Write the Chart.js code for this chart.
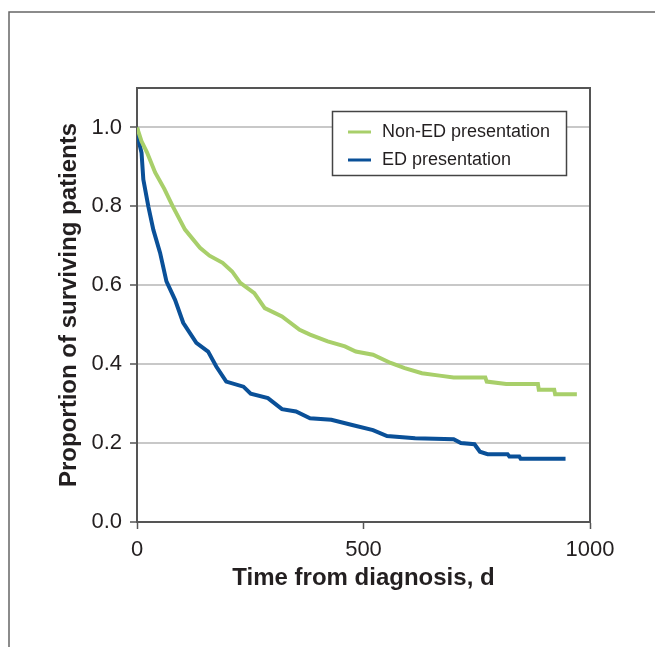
<!DOCTYPE html>
<html>
<head>
<meta charset="utf-8">
<script src="https://cdn.jsdelivr.net/npm/chart.js@4.4.1/dist/chart.umd.min.js"></script>
<style>
    body { margin: 0; background: #fff; }
    canvas { display: block; }
</style>
</head>
<body>
<canvas id="survivalChart" width="655" height="647"></canvas>
<script>
// Kaplan-Meier curves (days, proportion surviving)
const nonEdDays = [0, 10, 22, 40, 60, 79, 106, 139, 160, 189, 210, 228, 259, 282, 320, 359, 382, 421, 459, 483, 521, 560, 591, 629, 668, 699, 769, 772, 815, 885, 887, 921, 923, 971];
const nonEdSurv = [1.0, 0.965, 0.937, 0.886, 0.845, 0.80, 0.741, 0.695, 0.675, 0.657, 0.635, 0.606, 0.580, 0.542, 0.521, 0.487, 0.475, 0.458, 0.445, 0.432, 0.424, 0.403, 0.390, 0.377, 0.371, 0.366, 0.366, 0.356, 0.350, 0.350, 0.335, 0.335, 0.324, 0.324];

const edDays = [0, 5, 10, 14, 25, 36, 51, 65, 84, 102, 131, 157, 175, 197, 235, 251, 289, 320, 351, 382, 429, 475, 521, 552, 614, 699, 715, 745, 757, 774, 818, 822, 844, 847, 946];
const edSurv = [1.0, 0.96, 0.936, 0.868, 0.80, 0.741, 0.682, 0.61, 0.563, 0.505, 0.454, 0.432, 0.394, 0.356, 0.343, 0.325, 0.314, 0.286, 0.280, 0.263, 0.259, 0.246, 0.233, 0.218, 0.212, 0.210, 0.200, 0.197, 0.178, 0.172, 0.172, 0.166, 0.166, 0.160, 0.160];

const seriesLabels = ['Non-ED presentation', 'ED presentation'];
const xTicks = [0, 500, 1000];
const yTicks = [0, 0.2, 0.4, 0.6, 0.8, 1.0];

const FONT = "'Liberation Sans', Arial, Helvetica, sans-serif";
const TEXT = '#231f20';
const AXIS = '#555555';

function toPoints(xs, ys) {
    return xs.map((x, i) => ({ x: x, y: ys[i] }));
}

// Outer frame, plot box and the boxed legend
const framePlugin = {
    id: 'frame',
    beforeDraw(chart) {
        const ctx = chart.ctx;
        ctx.save();
        ctx.fillStyle = '#fff';
        ctx.fillRect(0, 0, chart.width, chart.height);
        ctx.strokeStyle = '#666';
        ctx.lineWidth = 1.5;
        ctx.beginPath();
        ctx.moveTo(9, chart.height);
        ctx.lineTo(9, 12);
        ctx.lineTo(chart.width, 12);
        ctx.stroke();
        ctx.restore();
    },
    afterDraw(chart) {
        const ctx = chart.ctx;
        const a = chart.chartArea;
        ctx.save();
        ctx.strokeStyle = AXIS;
        ctx.lineWidth = 2;
        ctx.beginPath();
        ctx.moveTo(a.left, a.top);
        ctx.lineTo(a.right, a.top);
        ctx.lineTo(a.right, a.bottom);
        ctx.stroke();

        // legend
        ctx.fillStyle = '#fff';
        ctx.fillRect(332.5, 111.5, 234, 64);
        ctx.strokeStyle = '#444';
        ctx.lineWidth = 1.5;
        ctx.strokeRect(332.5, 111.5, 234, 64);
        ctx.font = '18px ' + FONT;
        ctx.textBaseline = 'middle';
        ctx.fillStyle = TEXT;
        chart.data.datasets.forEach((ds, i) => {
            const y = 132 + i * 28;
            ctx.strokeStyle = ds.borderColor;
            ctx.lineWidth = 3;
            ctx.beginPath();
            ctx.moveTo(348, y);
            ctx.lineTo(371, y);
            ctx.stroke();
            ctx.fillText(ds.label, 382, y);
        });
        ctx.restore();
    }
};

const ctx = document.getElementById('survivalChart').getContext('2d');
new Chart(ctx, {
    type: 'line',
    data: {
        datasets: [{
            label: seriesLabels[0],
            data: toPoints(nonEdDays, nonEdSurv),
            borderColor: '#a8cf6a',
            borderWidth: 4,
            pointRadius: 0,
            tension: 0,
            fill: false
        }, {
            label: seriesLabels[1],
            data: toPoints(edDays, edSurv),
            borderColor: '#0a5098',
            borderWidth: 4,
            pointRadius: 0,
            tension: 0,
            fill: false
        }]
    },
    options: {
        responsive: false,
        animation: false,
        layout: {
            padding: { top: 88, right: 65, left: 0, bottom: 0 }
        },
        plugins: {
            legend: { display: false },
            tooltip: { enabled: false }
        },
        scales: {
            x: {
                type: 'linear',
                min: 0,
                max: 1000,
                afterBuildTicks: scale => {
                    scale.ticks = xTicks.map(v => ({ value: v }));
                },
                afterFit: scale => { scale.height = 125; },
                ticks: {
                    font: { family: FONT, size: 22 },
                    color: TEXT,
                    padding: 8,
                    maxRotation: 0,
                    callback: v => String(v)
                },
                grid: {
                    drawOnChartArea: false,
                    tickLength: 7,
                    tickColor: AXIS,
                    tickWidth: 1.5
                },
                border: { color: AXIS, width: 2 },
                title: {
                    display: true,
                    text: 'Time from diagnosis, d',
                    font: { family: FONT, size: 24, weight: 'bold' },
                    color: TEXT,
                    padding: { top: 0, bottom: 54 }
                }
            },
            y: {
                min: 0,
                max: 1.1,
                afterBuildTicks: scale => {
                    scale.ticks = yTicks.map(v => ({ value: v }));
                },
                afterFit: scale => { scale.width = 137; },
                ticks: {
                    font: { family: FONT, size: 22 },
                    color: TEXT,
                    padding: 8,
                    callback: v => v.toFixed(1)
                },
                grid: {
                    color: '#c8c8c8',
                    lineWidth: 2,
                    tickLength: 7,
                    tickColor: AXIS,
                    tickWidth: 1.5
                },
                border: { color: AXIS, width: 2 },
                title: {
                    display: true,
                    text: 'Proportion of surviving patients',
                    font: { family: FONT, size: 24, weight: 'bold' },
                    color: TEXT,
                    padding: { top: 55, bottom: 0 }
                }
            }
        }
    },
    plugins: [framePlugin]
});
</script>
</body>
</html>
